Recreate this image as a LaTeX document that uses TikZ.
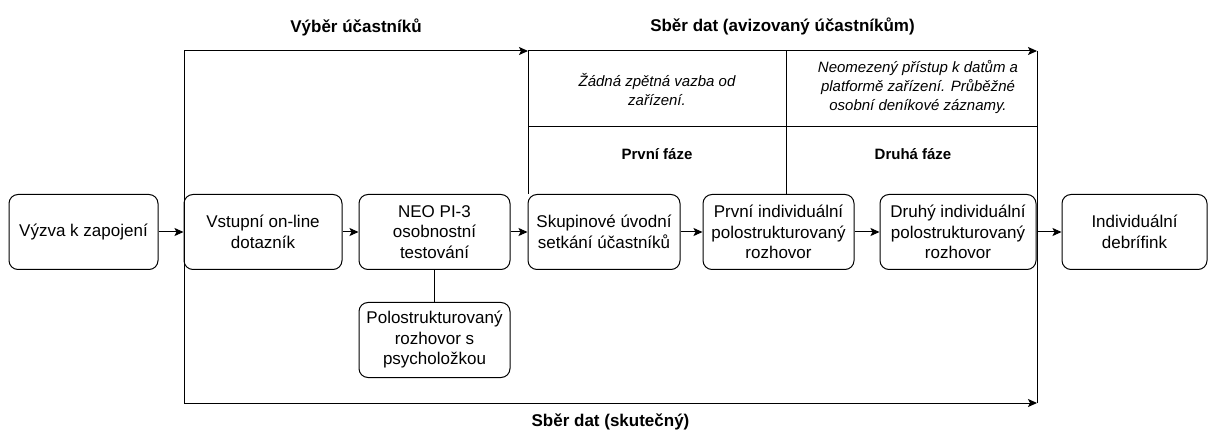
\documentclass[tikz,border=0pt]{standalone}
\usepackage{fontspec}
\setmainfont{Liberation Sans}
\usetikzlibrary{shapes,arrows,arrows.meta}
\tikzstyle{block} = [rectangle, draw, align=center, rounded corners=9pt,
    minimum width=151pt, minimum height=75pt, inner sep=2pt,
    font=\fontsize{17}{20.5}\selectfont]
\tikzstyle{note} = [align=center, font=\fontsize{15}{19}\selectfont\itshape]
\tikzstyle{phase} = [font=\fontsize{15}{18}\selectfont\bfseries]
\tikzstyle{heading} = [font=\fontsize{17}{20}\selectfont\bfseries]
\tikzset{
  line/.style ={draw, line width=1pt, -{Stealth[length=9pt,width=8pt,inset=2pt]}, shorten >=0pt}
}

\begin{document}
\begin{tikzpicture}[x=1pt, y=-1pt, line width=1pt]
   \useasboundingbox (0,0) rectangle (1209,435);
   \node [block, minimum width=149pt] (invite) at (83.5,232) {Výzva k zapojení};
   \node [block, minimum width=158pt, right of=invite, node distance=179.5pt] (entry_form) {Vstupní on-line\\dotazník};
   \node [block, right of=entry_form, node distance=171.5pt] (neo_test) {NEO PI-3\\osobnostní\\testování};
   \node [block, below of=neo_test, node distance=108pt] (psych_talk) {Polostrukturovaný\\rozhovor s\\psycholožkou};
   \node [block, minimum width=152pt, right of=neo_test, node distance=169.5pt] (group_meet) {Skupinové úvodní\\setkání účastníků};
   \node [block, right of=group_meet, node distance=174.5pt] (first_talk) {První individuální\\polostrukturovaný\\rozhovor};
   \node [block, minimum width=156pt, right of=first_talk, node distance=179.5pt] (second_talk) {Druhý individuální\\polostrukturovaný\\rozhovor};
   \node [block, minimum width=145pt, right of=second_talk, node distance=176.5pt] (debrief) {Individuální\\debrífink};
   % frame of the data collection
   \coordinate (sel_start) at (184,51);
   \coordinate (sel_end) at (528,51);
   \coordinate (phase_split) at (786,51);
   \coordinate (col_end) at (1037,51);
   \coordinate (note_split) at (528,127);
   \coordinate (real_start) at (184,403);
   \coordinate (real_end) at (1037,403);
   \path [line] (sel_start) -- node [heading, yshift=24pt] {Výběr účastníků} (sel_end);
   \path [line] (sel_end) -- node [heading, yshift=25pt] {Sběr dat (avizovaný účastníkům)} (col_end);
   \path [line] (real_start) -- node [heading, yshift=-19pt] {Sběr dat (skutečný)} (real_end);
   \draw (sel_start) -- (real_start);
   \draw (col_end) -- (real_end);
   \draw (sel_end) -- (sel_end |- group_meet.north);
   \draw (phase_split) -- (phase_split |- first_talk.north);
   \draw (note_split) -- (note_split -| col_end);
   \node [note] (note_first) at (657,89.5) {Žádná zpětná vazba od\\zařízení.};
   \node [note] (note_second) at (918,87) {Neomezený přístup k datům a\\platformě zařízení. Průběžné\\osobní deníkové záznamy.};
   \node [phase] (phase_first) at (657,154) {První fáze};
   \node [phase] (phase_second) at (913,154) {Druhá fáze};
   % flow
   \path [line] (invite) -- (entry_form);
   \path [line] (entry_form) -- (neo_test);
   \path [line] (neo_test) -- (group_meet);
   \path [line] (group_meet) -- (first_talk);
   \path [line] (first_talk) -- (second_talk);
   \path [line] (second_talk) -- (debrief);
   \draw (neo_test) -- (psych_talk);
\end{tikzpicture}
\end{document}
